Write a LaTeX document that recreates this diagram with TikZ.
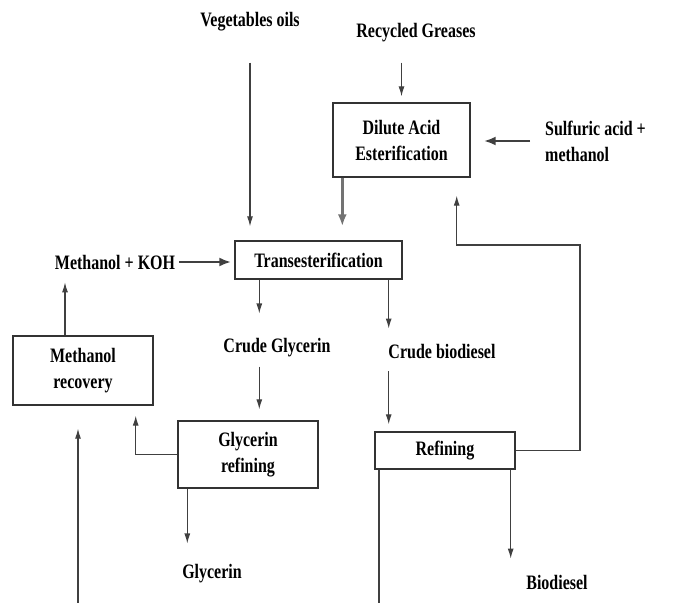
\documentclass[tikz,border=0pt]{standalone}
\usepackage{fontspec}
\setmainfont{Liberation Serif}[FakeStretch=0.78]
\usetikzlibrary{arrows.meta,positioning,calc}

\begin{document}
\begin{tikzpicture}[x=1pt,y=-1pt,
    font=\bfseries\fontsize{20.5}{26}\selectfont,
    box/.style={draw=black!80,line width=1.4pt,align=center,inner sep=0pt},
    lbl/.style={inner sep=0pt,align=left},
    flow/.style={draw=black!75,line width=1.1pt,-{Latex[length=10pt,width=6pt]}},
    heavy/.style={flow,line width=2.6pt,-{Latex[length=12pt,width=9pt]}}]
  \useasboundingbox (0,0) rectangle (674,602);

  % Feedstocks
  \node[lbl] (veg) at (250,22) {Vegetables oils};
  \node[lbl] (recyc) at (416,33) {Recycled Greases};
  \node[lbl,anchor=west] (sulf) at (545,141) {Sulfuric acid +\\methanol};
  \node[lbl] (mkoh) at (115,262) {Methanol + KOH};

  % Process boxes
  \node[box,minimum width=137pt,minimum height=74pt] (dilute) at (401.5,140) {Dilute Acid\\Esterification};
  \node[box,minimum width=167pt,minimum height=38pt] (trans) at (318.5,260) {Transesterification};
  \node[box,minimum width=140pt,minimum height=69pt] (mrec) at (83,370.5) {Methanol\\recovery};
  \node[box,minimum width=140pt,minimum height=67pt] (grefine) at (248,454.5) {Glycerin\\refining};
  \node[box,minimum width=140pt,minimum height=37pt] (refin) at (445,450.5) {Refining};

  % Intermediate and final products
  \node[lbl] (crudeg) at (277,348) {Crude Glycerin};
  \node[lbl] (crudeb) at (442,352) {Crude biodiesel};
  \node[lbl] (glyc) at (212,574) {Glycerin};
  \node[lbl] (biod) at (557,582) {Biodiesel};

  % Lines running off the bottom edge
  \coordinate (offL) at (78,608);
  \coordinate (offR) at (379,608);
  \coordinate (recycle) at (580,245);

  % Feeds into the reactors
  \draw[flow,shorten <=31pt,shorten >=14pt] (veg.south) -- (veg.south |- trans.north);
  \draw[flow,shorten <=20pt,shorten >=6pt] (recyc.south -| dilute.north) -- (dilute.north);
  \draw[heavy,shorten <=15pt,shorten >=13pt] (sulf.west) -- (sulf.west -| dilute.east);
  \draw[heavy,draw=black!55,shorten >=14pt] ([xshift=10pt]dilute.south west) -- ([xshift=10pt]dilute.south west |- trans.north);
  \draw[heavy,shorten <=4pt,shorten >=3pt] (mkoh.east) -- (mkoh.east -| trans.west);

  % Products of transesterification
  \draw[flow,shorten >=25pt] ([xshift=25pt]trans.south west) -- ([xshift=25pt]trans.south west |- crudeg.north);
  \draw[flow,shorten >=16pt] ([xshift=-14pt]trans.south east) -- ([xshift=-14pt]trans.south east |- crudeb.north);
  \draw[flow,shorten <=9pt,shorten >=11pt] ([xshift=25pt]trans.south west |- crudeg.south) -- ([xshift=25pt]trans.south west |- grefine.north);
  \draw[flow,shorten <=12pt,shorten >=7pt] ([xshift=-14pt]trans.south east |- crudeb.south) -- ([xshift=-14pt]trans.south east |- refin.north);

  % Methanol recycle
  \draw[flow,shorten >=13pt] ([xshift=-18pt]mrec.north) -- ([xshift=-18pt]mrec.north |- mkoh.south);
  \draw[flow,shorten >=10pt] (grefine.west) -| ([xshift=-18pt]mrec.south east);
  \draw[flow,shorten >=23pt] (offL) -- (offL |- mrec.south);

  % Glycerin and biodiesel out
  \draw[flow,shorten >=21pt] ([xshift=10pt]grefine.south west) -- ([xshift=10pt]grefine.south west |- glyc.north);
  \draw[flow,shorten >=16pt] ([xshift=-5pt]refin.south east) -- ([xshift=-5pt]refin.south east |- biod.north);
  \draw[draw=black!75,line width=1.1pt] (refin.south -| offR) -- (offR);

  % Back to esterification
  \draw[flow,shorten >=18pt] (refin.east) -| (recycle) -| ([xshift=-14pt]dilute.south east);
\end{tikzpicture}
\end{document}
